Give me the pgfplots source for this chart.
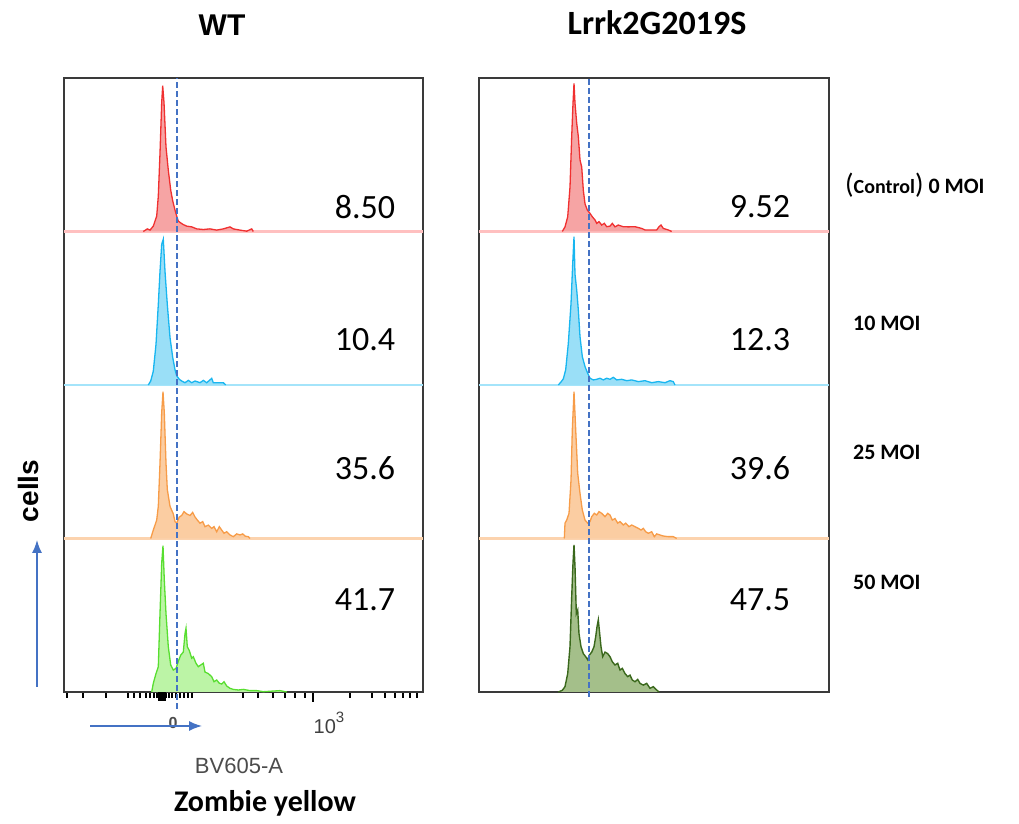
\documentclass[border=0pt]{standalone}
\usepackage{pgfplots}
\pgfplotsset{compat=1.18}
\usepackage{fontspec}
\setmainfont{Carlito}
\newfontfamily\arial{Liberation Sans}
\usetikzlibrary{arrows.meta}
\definecolor{redline}{HTML}{F03030}
\definecolor{redfill}{HTML}{F6A4A4}
\definecolor{redbase}{HTML}{FFC0C0}
\definecolor{blueline}{HTML}{18B6F0}
\definecolor{bluefill}{HTML}{9ADFF7}
\definecolor{bluebase}{HTML}{A4E4FA}
\definecolor{orline}{HTML}{F79C48}
\definecolor{orfill}{HTML}{FBCDA2}
\definecolor{orbase}{HTML}{FCD3AE}
\definecolor{grline}{HTML}{58DE30}
\definecolor{grfill}{HTML}{BCF4A6}
\definecolor{dgline}{HTML}{3A681C}
\definecolor{dgfill}{HTML}{A4BF8A}
\definecolor{dashblue}{HTML}{4472C4}
\definecolor{boxc}{HTML}{3A3A3A}
\begin{document}
\begin{tikzpicture}[x=1bp,y=1bp]
\useasboundingbox (0,0) rectangle (1019,824);
\pgfplotsset{hist/.style={scale only axis, height=614bp, ymin=0, ymax=4, clip=false,
  axis line style={boxc, line width=1.6bp}, ytick=\empty}}
% ---------------- left panel (WT)
\begin{axis}[hist, at={(64bp,132bp)}, anchor=south west, width=359bp, xmin=0, xmax=359,
  xtick={249}, xticklabels={}, minor xtick={3,19,42,64,70,76,82,86,90,93,102,105,108,112,116,120,124,128,179,194,209,221,231,241,286,308,321,331,339,346,353},
  extra x ticks={95,97,99,101}, extra x tick labels={},
  extra x tick style={major tick length=9bp, tick style={line width=2.5bp, black}},
  xtick pos=bottom, tick align=outside, major tick length=10bp, minor tick length=6bp,
  tick style={black, line width=1.3bp}]
\addplot[redbase, line width=2.5bp] coordinates {(0,3) (359,3)};
\addplot[bluebase, line width=2.5bp] coordinates {(0,2) (359,2)};
\addplot[orbase, line width=2.5bp] coordinates {(0,1) (359,1)};
\addplot[draw=redline, fill=redfill, line width=1.3bp] coordinates {
(79.3,3) (83.3,3.017) (86,3.009) (89.3,3.035) (92.7,3.10) (94.3,3.23) (96,3.51) (97.7,3.84) (98.7,3.95) (100,3.84) (102,3.55) (104.3,3.40) (106.7,3.27) (108.7,3.20) (111,3.14) (112.7,3.10) (114.3,3.067) (116.7,3.056) (119.3,3.045) (122.7,3.035) (127.7,3.03) (132.7,3.017) (139.3,3.013) (146,3.017) (152.7,3.009) (159.3,3.017) (166,3.03) (169.3,3.017) (176,3.009) (182.7,3.002) (187.7,3.017) (189.3,3)};
\addplot[draw=blueline, fill=bluefill, line width=1.3bp] coordinates {
(84.3,2) (86.7,2.026) (89.3,2.09) (92,2.265) (94.3,2.525) (96,2.74) (97.7,2.917) (99.3,2.95) (101,2.74) (103.3,2.525) (106,2.31) (108.7,2.18) (111,2.10) (112.7,2.06) (115.3,2.037) (117.7,2.026) (121,2.015) (124.3,2.03) (127.7,2.015) (131,2.026) (136,2.015) (139.3,2.03) (142.7,2.015) (147.7,2.043) (149.3,2.015) (152.7,2.015) (159.3,2.015) (161.7,2)};
\addplot[draw=orline, fill=orfill, line width=1.3bp] coordinates {
(86.7,1) (89.3,1.055) (92.7,1.12) (94.3,1.21) (96,1.49) (97.7,1.82) (99,1.956) (100.3,1.82) (102,1.49) (103.3,1.32) (106,1.21) (109.3,1.16) (111,1.11) (112.7,1.10) (115.3,1.14) (117.7,1.15) (120,1.175) (122.7,1.16) (126,1.15) (128.7,1.17) (131,1.14) (133.3,1.12) (136,1.10) (138.7,1.11) (141,1.077) (144.3,1.087) (147.7,1.066) (150,1.077) (152.7,1.044) (155.3,1.077) (157.7,1.055) (160,1.034) (162.7,1.044) (166,1.023) (169.3,1.012) (172.7,1.03) (176,1.023) (178.7,1.03) (181.3,1.015) (184.3,1.012) (186,1)};
\addplot[draw=grline, fill=grfill, line width=1.3bp] coordinates {
(87.7,0) (89.3,0.057) (92,0.12) (94.3,0.165) (96,0.51) (97.7,0.84) (99,0.953) (100.3,0.73) (102,0.51) (104.3,0.295) (106.7,0.176) (109.3,0.143) (112,0.154) (114.3,0.20) (116.7,0.24) (119.3,0.26) (121,0.38) (122,0.415) (123.3,0.295) (125.3,0.27) (127.7,0.22) (129.3,0.23) (132,0.187) (134.3,0.165) (136.7,0.176) (139.3,0.187) (141,0.13) (144.3,0.12) (147.7,0.10) (150,0.067) (152.7,0.078) (155.3,0.057) (157.7,0.052) (160,0.067) (162.7,0.039) (166,0.024) (169.3,0.017) (174.3,0.013) (179.3,0.017) (186,0.009) (192.7,0.009) (199.3,0.002) (216,0.009) (222.7,0)};
\addplot[dashblue, line width=1.5bp, dash pattern=on 6bp off 3bp] coordinates {(113,-0.11) (113,4)};
\node[font=\arial\bfseries\fontsize{16bp}{18bp}\selectfont, text=black!70] at (axis cs:109,-0.2) {0};
\node[font=\arial\fontsize{20bp}{22bp}\selectfont, text=black!75, inner sep=0pt] at (axis cs:265,-0.2) {10\raisebox{0.55em}{\fontsize{15bp}{17bp}\selectfont 3}};
\end{axis}
% ---------------- right panel (Lrrk2G2019S)
\begin{axis}[hist, at={(479bp,132bp)}, anchor=south west, width=350bp, xmin=0, xmax=350, xtick=\empty]
\addplot[redbase, line width=2.5bp] coordinates {(0,3) (350,3)};
\addplot[bluebase, line width=2.5bp] coordinates {(0,2) (350,2)};
\addplot[orbase, line width=2.5bp] coordinates {(0,1) (350,1)};
\addplot[draw=redline, fill=redfill, line width=1.3bp] coordinates {
(83.3,3) (86,3.03) (88.7,3.096) (91,3.29) (92.7,3.62) (94,3.835) (95,3.965) (96,3.835) (97.7,3.705) (99.3,3.62) (101,3.466) (102.7,3.42) (104.3,3.27) (106,3.18) (108.3,3.14) (111,3.118) (113.3,3.096) (116,3.075) (117.7,3.053) (120,3.064) (122.7,3.042) (125.3,3.053) (127.7,3.031) (131,3.035) (133.3,3.053) (136,3.03) (139.3,3.042) (144.3,3.031) (149.3,3.03) (156,3.031) (162.7,3.02) (166,3.01) (177.7,3.01) (180,3.031) (182,3.042) (184.3,3.02) (189.3,3.01) (192.7,3)};
\addplot[draw=blueline, fill=bluefill, line width=1.3bp] coordinates {
(79.3,2) (82,2.02) (84.3,2.04) (86.7,2.10) (89.3,2.27) (92,2.53) (93.7,2.79) (95,2.966) (96,2.72) (97.7,2.62) (99.3,2.49) (101,2.315) (103.3,2.185) (106,2.12) (108.7,2.076) (111,2.044) (114.3,2.033) (117.7,2.037) (121,2.044) (124.3,2.033) (127.7,2.044) (131,2.037) (134.3,2.05) (137.7,2.033) (142.7,2.037) (147.7,2.028) (152.7,2.033) (159.3,2.022) (166,2.028) (172.7,2.015) (179.3,2.022) (186,2.015) (191,2.028) (194.3,2.022) (196,2)};
\addplot[draw=orline, fill=orfill, line width=1.3bp] coordinates {
(85.3,1) (86,1.10) (87.7,1.12) (90,1.164) (92,1.38) (93.3,1.707) (95,1.956) (96.7,1.707) (98.7,1.425) (101,1.294) (103.3,1.186) (106,1.12) (108.7,1.10) (111,1.11) (112.7,1.142) (115.3,1.164) (117.7,1.153) (120,1.175) (122.7,1.164) (126,1.142) (128.7,1.164) (131,1.153) (133.3,1.12) (136,1.13) (138.7,1.10) (141,1.11) (144.3,1.088) (146.7,1.10) (150,1.077) (152.7,1.088) (156,1.077) (159.3,1.066) (162,1.055) (164.3,1.066) (166.7,1.044) (169.3,1.034) (172.7,1.044) (175.3,1.012) (177.7,1.03) (181,1.023) (184.3,1.016) (189.3,1.012) (194.3,1.012) (197.7,1)};
\addplot[draw=dgline, fill=dgfill, line width=1.4bp] coordinates {
(79.3,0) (83.3,0.011) (86,0.035) (88.7,0.12) (91,0.295) (92.7,0.62) (94,0.84) (95,0.958) (96,0.816) (97.3,0.51) (98.7,0.534) (100,0.38) (102,0.295) (104.3,0.25) (106.7,0.23) (108.7,0.21) (110.3,0.24) (112.7,0.26) (115,0.295) (116.7,0.36) (118,0.425) (119.3,0.47) (120.7,0.38) (122,0.295) (123.7,0.23) (126,0.26) (128.7,0.25) (131,0.23) (133.3,0.197) (136,0.176) (138.7,0.187) (141,0.143) (143.3,0.154) (146,0.12) (148.7,0.10) (151,0.11) (153.3,0.078) (156,0.067) (158.7,0.082) (161,0.056) (164.3,0.045) (167.7,0.056) (171,0.024) (174.3,0.035) (177.7,0.013) (180,0)};
\addplot[dashblue, line width=1.5bp, dash pattern=on 6bp off 3bp] coordinates {(110,-0.03) (110,4)};
\end{axis}
% ---------------- texts
\node[font=\arial\bfseries\fontsize{30bp}{34bp}\selectfont] at (222,799) {WT};
\node[font=\bfseries\fontsize{34bp}{38bp}\selectfont] at (657,801) {Lrrk2G2019S};
\begin{scope}[every node/.style={font=\fontsize{34bp}{38bp}\selectfont}]
\node at (365,617) {8.50};
\node at (365,484) {10.4};
\node at (365,356) {35.6};
\node at (365,224) {41.7};
\node at (760,617) {9.52};
\node at (760,484) {12.3};
\node at (760,356) {39.6};
\node at (760,224) {47.5};
\end{scope}
\begin{scope}[every node/.style={font=\bfseries\fontsize{22bp}{26bp}\selectfont, anchor=west, inner sep=0pt}]
\node at (845,639) {{\mdseries\fontsize{28bp}{30bp}\selectfont(}{\fontsize{20bp}{22bp}\selectfont Control}{\mdseries\fontsize{28bp}{30bp}\selectfont)} 0 MOI};
\node at (853,501) {10 MOI};
\node at (853,372) {25 MOI};
\node at (853,242) {50 MOI};
\end{scope}
\node[font=\arial\bfseries\fontsize{28bp}{30bp}\selectfont, rotate=90] at (28,333) {cells};
\draw[dashblue, line width=1.5bp, -{Latex[length=13bp,width=10bp]}] (37,137) -- (37,284);
\draw[dashblue, line width=1.5bp, -{Latex[length=13bp,width=10bp]}] (90,98) -- (202,98);
\node[font=\arial\fontsize{22bp}{25bp}\selectfont, text=black!70] at (239,58) {BV605-A};
\node[font=\bfseries\fontsize{30bp}{34bp}\selectfont] at (265,21) {Zombie yellow};
\end{tikzpicture}
\end{document}
